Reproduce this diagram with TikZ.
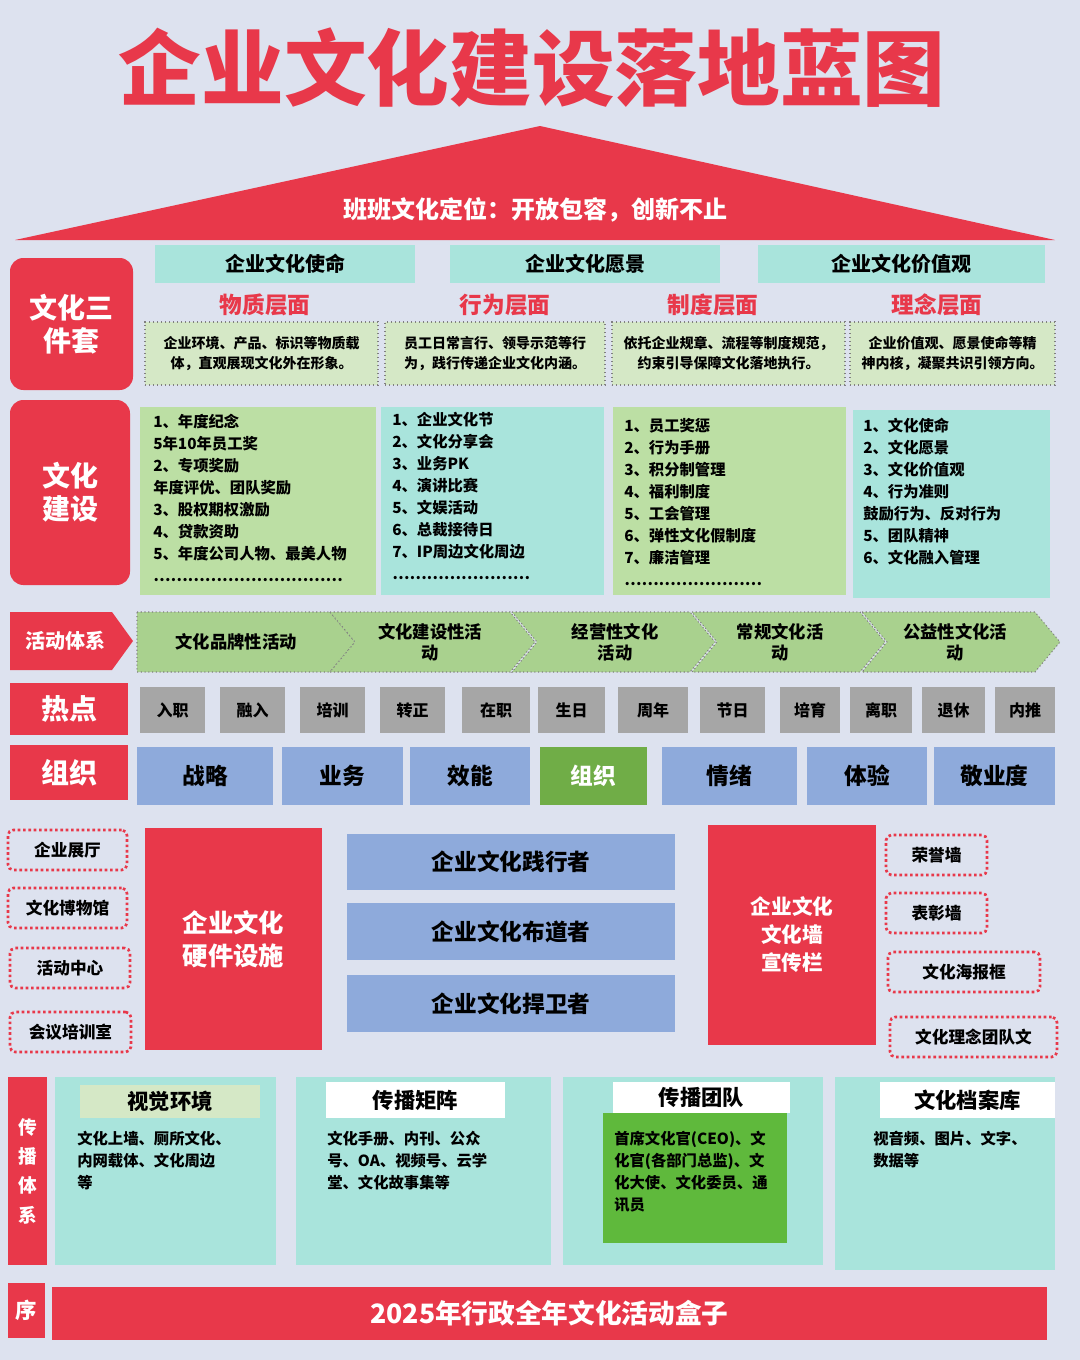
\documentclass[tikz,border=0pt]{standalone}
\usepackage{fontspec}
\setmainfont{Noto Sans CJK SC}
\definecolor{bg}{HTML}{DDE2EF}
\definecolor{rd}{HTML}{E8384A}
\definecolor{tl}{HTML}{A9E4DC}
\definecolor{lg}{HTML}{D5E8C6}
\definecolor{gn}{HTML}{BCDFA4}
\definecolor{ch}{HTML}{A9D18E}
\definecolor{gy}{HTML}{A6A6A6}
\definecolor{bl}{HTML}{8EAADB}
\definecolor{og}{HTML}{70AD47}
\tikzset{x=0.75pt,y=-0.75pt,
 b/.style={inner sep=0pt,align=center,font=\bfseries},
 rl/.style={b,fill=rd,rounded corners=10pt,text=white,font=\bfseries\fontsize{21}{25}\selectfont},
 dt/.style={b,draw=rd,dotted,line width=2pt,rounded corners=4pt,fill=bg,font=\bfseries\fontsize{12.5}{15}\selectfont},
 lst/.style={anchor=north west,align=left,inner sep=0pt,font=\bfseries\fontsize{11.5}{16.5}\selectfont},
 chev/.style={fill=ch,draw=gray,dotted,line width=0.8pt},
 ctx/.style={b,font=\bfseries\fontsize{13}{16}\selectfont}}
\newcommand{\bx}[7]{\node[#6,minimum width={(#4-#2)*0.75pt},minimum height={(#5-#3)*0.75pt}] (#1) at ({(#2+#4)/2},{(#3+#5)/2}) {#7};}
\begin{document}
\begin{tikzpicture}
\fill[bg] (0,0) rectangle (1080,1360);
\node[b,text=rd,font=\bfseries\fontsize{62}{70}\selectfont] (title) at (532,68) {企业文化建设落地蓝图};
\fill[rd] (15,240) -- (540,126) -- (1055,240) -- cycle;
\node[b,text=white,font=\bfseries\fontsize{18}{22}\selectfont] (pos) at (535,210) {班班文化定位：开放包容，创新不止};
% left labels
\bx{l1}{10}{258}{133}{390}{rl}{文化三\\件套}
\bx{l2}{10}{400}{130}{585}{rl}{文化\\建设}
\fill[rd] (10,612) -- (112,612) -- (133,641) -- (112,670) -- (10,670) -- cycle;
\node[b,text=white,font=\bfseries\fontsize{15}{18}\selectfont] (l3) at (66,641) {活动体系};
\bx{l4}{10}{683}{128}{735}{rl,rounded corners=0pt}{热点}
\bx{l5}{10}{745}{128}{800}{rl,rounded corners=0pt}{组织}
% top row
\bx{m1}{155}{245}{415}{283}{b,fill=tl,font=\bfseries\fontsize{15}{18}\selectfont}{企业文化使命}
\bx{m2}{450}{245}{720}{283}{b,fill=tl,font=\bfseries\fontsize{15}{18}\selectfont}{企业文化愿景}
\bx{m3}{758}{245}{1045}{283}{b,fill=tl,font=\bfseries\fontsize{15}{18}\selectfont}{企业文化价值观}
\foreach \n/\x/\t in {r1/265/物质层面,r2/505/行为层面,r3/713/制度层面,r4/937/理念层面}
  \node[b,text=rd,font=\bfseries\fontsize{17}{20}\selectfont] (\n) at (\x,305) {\t};
\tikzset{gbox/.style={b,fill=lg,draw=gray,dotted,line width=1pt,font=\bfseries\fontsize{10.5}{15}\selectfont}}
\bx{g1}{145}{322}{378}{385}{gbox}{企业环境、产品、标识等物质载\\体，直观展现文化外在形象。}
\bx{g2}{385}{322}{605}{385}{gbox}{员工日常言行、领导示范等行\\为，践行传递企业文化内涵。}
\bx{g3}{612}{322}{845}{385}{gbox}{依托企业规章、流程等制度规范，\\约束引导保障文化落地执行。}
\bx{g4}{850}{322}{1055}{385}{gbox}{企业价值观、愿景使命等精\\神内核，凝聚共识引领方向。}
% culture building
\fill[gn] (140,407) rectangle (376,595);
\fill[tl] (381,407) rectangle (604,595);
\fill[gn] (613,407) rectangle (846,595);
\fill[tl] (853,410) rectangle (1050,598);
\node[lst] (c1) at (153,414) {1、年度纪念\\5年10年员工奖\\2、专项奖励\\年度评优、团队奖励\\3、股权期权激励\\4、贷款资助\\5、年度公司人物、最美人物\\……………………………};
\node[lst] (c2) at (392,412) {1、企业文化节\\2、文化分享会\\3、业务PK\\4、演讲比赛\\5、文娱活动\\6、总裁接待日\\7、IP周边文化周边\\……………………};
\node[lst] (c3) at (624,418) {1、员工奖惩\\2、行为手册\\3、积分制管理\\4、福利制度\\5、工会管理\\6、弹性文化假制度\\7、廉洁管理\\……………………};
\node[lst] (c4) at (863,418) {1、文化使命\\2、文化愿景\\3、文化价值观\\4、行为准则\\鼓励行为、反对行为\\5、团队精神\\6、文化融入管理};
% chevrons
\draw[chev] (137,612) -- (330,612) -- (355,642) -- (330,672) -- (137,672) -- cycle;
\draw[chev] (330,612) -- (510,612) -- (535,642) -- (510,672) -- (330,672) -- (355,642) -- cycle;
\draw[chev] (512,612) -- (690,612) -- (715,642) -- (690,672) -- (512,672) -- (537,642) -- cycle;
\draw[chev] (692,612) -- (860,612) -- (885,642) -- (860,672) -- (692,672) -- (717,642) -- cycle;
\draw[chev] (862,612) -- (1035,612) -- (1060,642) -- (1035,672) -- (862,672) -- (887,642) -- cycle;
\node[ctx] (a1) at (236,642) {文化品牌性活动};
\node[ctx] (a2) at (430,642) {文化建设性活\\动};
\node[ctx] (a3) at (615,642) {经营性文化\\活动};
\node[ctx] (a4) at (780,642) {常规文化活\\动};
\node[ctx] (a5) at (955,642) {公益性文化活\\动};
% hot spots
\foreach \n/\xa/\xb/\t in {h1/140/205/入职,h2/220/285/融入,h3/300/365/培训,h4/380/445/转正,h5/462/530/在职,h6/538/605/生日,h7/618/688/周年,h8/700/765/节日,h9/780/840/培育,h10/850/912/离职,h11/922/985/退休,h12/995/1055/内推}
  {\bx{\n}{\xa}{687}{\xb}{733}{b,fill=gy,font=\bfseries\fontsize{12}{14}\selectfont}{\t}}
% org
\foreach \n/\xa/\xb/\t in {o1/137/273/战略,o2/282/403/业务,o3/410/530/效能,o5/662/797/情绪,o6/807/927/体验,o7/934/1055/敬业度}
  {\bx{\n}{\xa}{747}{\xb}{805}{b,fill=bl,font=\bfseries\fontsize{17}{20}\selectfont}{\t}}
\bx{o4}{540}{747}{647}{805}{b,fill=og,text=white,font=\bfseries\fontsize{17}{20}\selectfont}{组织}
% facilities
\bx{f1}{8}{830}{127}{870}{dt}{企业展厅}
\bx{f2}{8}{888}{127}{928}{dt}{文化博物馆}
\bx{f3}{10}{948}{130}{988}{dt}{活动中心}
\bx{f4}{10}{1012}{131}{1052}{dt}{会议培训室}
\bx{hw}{145}{828}{322}{1050}{b,fill=rd,text=white,font=\bfseries\fontsize{19}{25}\selectfont}{企业文化\\硬件设施}
\bx{p1}{347}{834}{675}{890}{b,fill=bl,font=\bfseries\fontsize{17}{20}\selectfont}{企业文化践行者}
\bx{p2}{347}{903}{675}{960}{b,fill=bl,font=\bfseries\fontsize{17}{20}\selectfont}{企业文化布道者}
\bx{p3}{347}{975}{675}{1032}{b,fill=bl,font=\bfseries\fontsize{17}{20}\selectfont}{企业文化捍卫者}
\bx{wl}{708}{825}{876}{1045}{b,fill=rd,text=white,font=\bfseries\fontsize{15.5}{21}\selectfont}{企业文化\\文化墙\\宣传栏}
\bx{w1}{886}{835}{987}{875}{dt}{荣誉墙}
\bx{w2}{886}{893}{987}{933}{dt}{表彰墙}
\bx{w3}{888}{952}{1040}{992}{dt}{文化海报框}
\bx{w4}{890}{1017}{1057}{1057}{dt}{文化理念团队文}
% communication
\bx{s0}{8}{1077}{47}{1265}{b,fill=rd,text=white,font=\bfseries\fontsize{14}{22}\selectfont}{传\\播\\体\\系}
\fill[tl] (55,1077) rectangle (276,1265);
\fill[tl] (296,1077) rectangle (551,1265);
\fill[tl] (563,1077) rectangle (823,1265);
\fill[tl] (835,1077) rectangle (1055,1270);
\tikzset{hd/.style={b,font=\bfseries\fontsize{16}{19}\selectfont}}
\bx{t1}{80}{1085}{260}{1118}{hd,fill=lg}{视觉环境}
\bx{t2}{326}{1082}{505}{1118}{hd,fill=white}{传播矩阵}
\bx{t3}{613}{1082}{790}{1113}{hd,fill=white}{传播团队}
\bx{t4}{880}{1082}{1055}{1118}{hd,fill=white}{文化档案库}
\fill[og!85!green] (603,1113) rectangle (787,1243);
\node[lst] (d1) at (77,1131) {文化上墙、厕所文化、\\内网载体、文化周边\\等};
\node[lst] (d2) at (327,1131) {文化手册、内刊、公众\\号、OA、视频号、云学\\堂、文化故事集等};
\node[lst] (d3) at (614,1131) {首席文化官(CEO)、文\\化官(各部门总监)、文\\化大使、文化委员、通\\讯员};
\node[lst] (d4) at (873,1131) {视音频、图片、文字、\\数据等};
% bottom
\bx{xu}{8}{1283}{45}{1338}{b,fill=rd,text=white,font=\bfseries\fontsize{16}{19}\selectfont}{序}
\bx{bar}{52}{1287}{1047}{1340}{b,fill=rd,text=white,font=\bfseries\fontsize{20}{24}\selectfont}{2025年行政全年文化活动盒子}
\end{tikzpicture}
\end{document}
